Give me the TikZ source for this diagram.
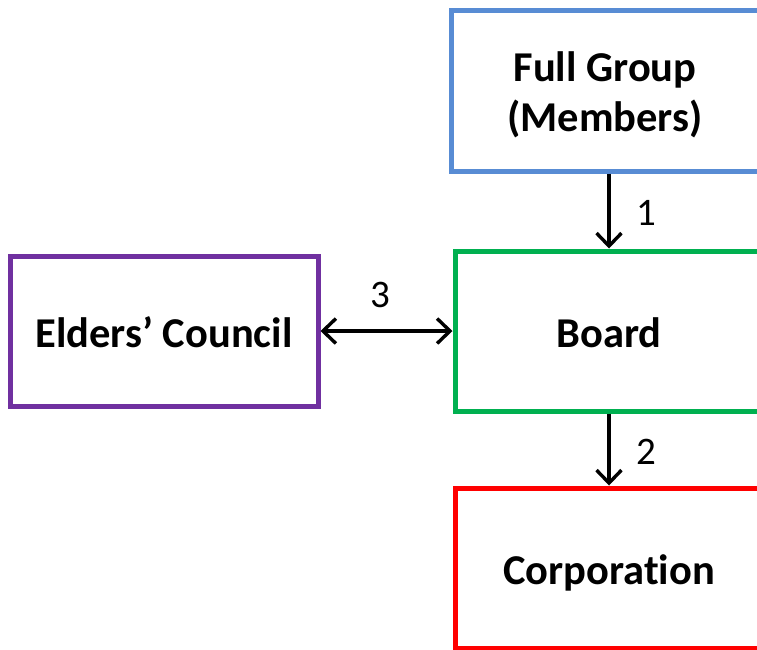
\documentclass[tikz,border=0pt]{standalone}
\usepackage{fontspec}
\setmainfont[Ligatures={NoCommon}]{Carlito}
\usetikzlibrary{arrows.meta}
\definecolor{grpblue}{RGB}{88,140,212}
\definecolor{brdgreen}{RGB}{0,176,80}
\definecolor{eldpurple}{RGB}{112,48,160}
\definecolor{corpred}{RGB}{255,0,0}
\tikzset{
  orgbox/.style={draw, line width=5pt, fill=white, minimum width=308pt,
    align=center, inner sep=0pt,
    font=\fontsize{42.5}{50}\selectfont\bfseries},
  conn/.style={line width=3.4pt, -{Straight Barb[length=13pt,width=25pt]}},
  conn2/.style={line width=3.4pt, {Straight Barb[length=13pt,width=25pt]}-{Straight Barb[length=13pt,width=25pt]}},
  steplabel/.style={font=\fontsize{39}{42}\selectfont, inner sep=0pt}
}
% lower a label visually while keeping its box size for centring
\newcommand{\shiftdown}[2]{\raisebox{-#1}[\height][\depth]{#2}}
\begin{document}
\begin{tikzpicture}[x=1pt,y=-1pt]
  \clip (0,0) rectangle (757,649);
  \fill[white] (0,0) rectangle (757,649);
  % boxes
  \node[orgbox, draw=grpblue, minimum height=161pt] (full) at (605,90.5)
    {\shiftdown{6pt}{\begin{tabular}{@{}c@{}}Full Group\\(Members)\end{tabular}}};
  \node[orgbox, draw=brdgreen, minimum height=160pt] (board) at (609,331) {\shiftdown{2pt}{Board}};
  \node[orgbox, draw=eldpurple, minimum height=150pt] (elders) at (164,331) {\shiftdown{1pt}{Elders’ Council}};
  \node[orgbox, draw=corpred, minimum height=160pt] (corp) at (609,568) {\shiftdown{5pt}{Corporation}};
  % connectors
  \draw[conn] (full.south -| board.north) -- (board.north);
  \draw[conn] (board.south) -- (corp.north);
  \draw[conn2] (elders.east) -- (board.west);
  % step numbers
  \node[steplabel] (n1) at (646,213) {1};
  \node[steplabel] (n2) at (646,452) {2};
  \node[steplabel] (n3) at (380,295) {3};
\end{tikzpicture}
\end{document}
